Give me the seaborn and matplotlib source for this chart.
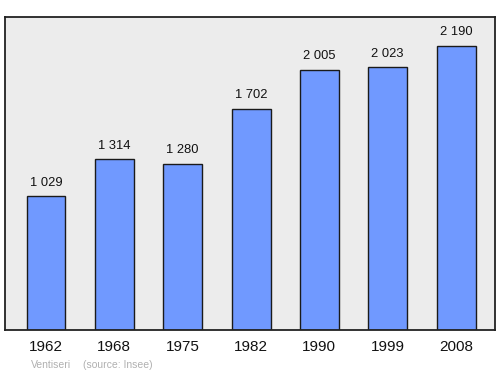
import matplotlib
matplotlib.use("Agg")
import matplotlib.pyplot as plt
import seaborn as sns
import pandas as pd

years = ["1962", "1968", "1975", "1982", "1990", "1999", "2008"]
population = [1029, 1314, 1280, 1702, 2005, 2023, 2190]
value_labels = ["1 029", "1 314", "1 280", "1 702", "2 005", "2 023", "2 190"]

sns.set_theme(style="white")
plt.rcParams['font.family'] = ['Liberation Sans', 'DejaVu Sans']

df = pd.DataFrame({"year": years, "pop": population})

fig = plt.figure(figsize=(5, 3.74), dpi=100)
ax = fig.add_axes([0.01, 0.1176, 0.98, 0.837])
ax.set_facecolor("#ececec")

sns.barplot(data=df, x="year", y="pop", color="#7099ff", saturation=1,
            width=0.57, edgecolor="#1a1a1a", linewidth=1.0, ax=ax)

for i, (v, lab) in enumerate(zip(population, value_labels)):
    ax.annotate(lab, (i, v), xytext=(0, 5.5), textcoords="offset points",
                ha="center", va="bottom", fontsize=9.3, color="#111111")

ax.set_xlim(-0.6, 6.57)
ax.set_ylim(0, 2411)
ax.set_xlabel("")
ax.set_ylabel("")
ax.set_yticks([])
ax.tick_params(axis="x", length=0, pad=7.5, labelsize=11, colors="#111111")
for s in ax.spines.values():
    s.set_color("#222222")
    s.set_linewidth(1.3)

fig.text(31/500, 1-365/374, "Ventiseri", fontsize=7.5, color="#b0b0b0",
         ha="left", va="center")
fig.text(83/500, 1-365/374, "(source: Insee)", fontsize=7.5, color="#b0b0b0",
         ha="left", va="center")

fig.savefig("out.png", dpi=100)
